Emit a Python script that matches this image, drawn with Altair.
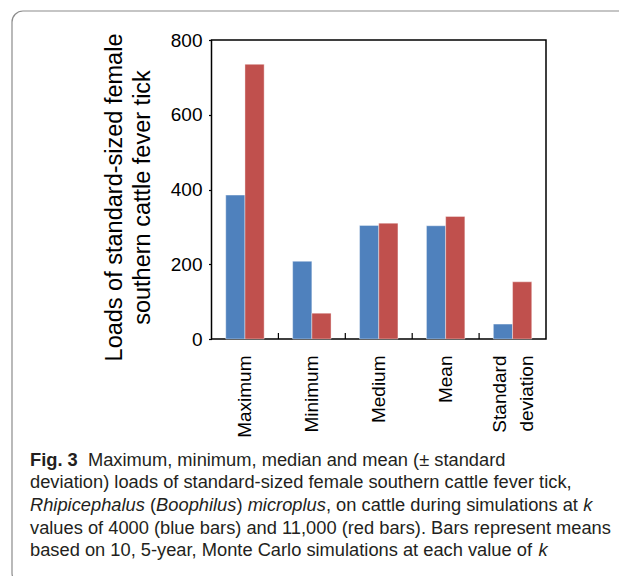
import altair as alt
import pandas as pd

categories = ["Maximum", "Minimum", "Medium", "Mean", "Standard deviation"]
k_values = ["4000", "11000"]
blue_4000 = [385, 208, 304, 303, 40]
red_11000 = [735, 69, 310, 328, 153]
y_ticks = [0, 200, 400, 600, 800]

rows = []
for c, b, r in zip(categories, blue_4000, red_11000):
    rows.append({"cat": c, "k": "4000", "load": b})
    rows.append({"cat": c, "k": "11000", "load": r})
df = pd.DataFrame(rows)

W, H = 334.5, 299
PL, PT = 203.5, 32  # plot origin in chart coords (page minus 8px margin)

xscale = alt.Scale(domain=categories, paddingInner=0, paddingOuter=0)

bars = alt.Chart(df).mark_bar(stroke="white", strokeWidth=0.4).encode(
    x=alt.X("cat:N", scale=xscale, sort=categories, title=None,
            axis=alt.Axis(labelAngle=-90, labelAlign="right", labelBaseline="middle",
                          labelPadding=16, ticks=False, tickSize=0, domain=False,
                          labelFont="Liberation Sans", labelFontSize=19, labelColor="black",
                          labelLineHeight=27,
                          labelOffset={"condition": {"test": "datum.value == 'Standard deviation'", "value": -13},
                                       "value": 0},
                          labelExpr="datum.value == 'Standard deviation' ? ['Standard', 'deviation'] : datum.label")),
    xOffset=alt.XOffset("k:N", scale=alt.Scale(domain=k_values, paddingOuter=0.742, paddingInner=0)),
    y=alt.Y("load:Q", scale=alt.Scale(domain=[0, 800], nice=False),
            axis=alt.Axis(values=y_ticks, tickSize=3, tickColor="black", tickWidth=1.2,
                          labelPadding=6.5, domain=False, grid=False,
                          labelFont="Liberation Sans", labelFontSize=19, labelColor="black",
                          title=["Loads of standard-sized female", "southern cattle fever tick"],
                          titleFont="Liberation Sans", titleFontSize=23.5, titleFontWeight="normal",
                          titleColor="black", titleLineHeight=28, titleAngle=-90,
                          titleBaseline="middle", titleAlign="center",
                          titleX=-97.5, titleY=157)),
    color=alt.Color("k:N", scale=alt.Scale(domain=k_values, range=["#4F81BD", "#C0504D"]), legend=None),
)

tick_df = pd.DataFrame({"cat": categories[1:]})
inner_ticks = alt.Chart(tick_df).mark_rule(color="black", strokeWidth=1.2).encode(
    x=alt.X("cat:N", scale=xscale, sort=categories, bandPosition=0, title=None),
    y=alt.value(H),
    y2=alt.value(H - 6),
)

frame_df = pd.DataFrame({"f": [1]})
frame = alt.Chart(frame_df).mark_rect(fillOpacity=0, stroke="#8c8c8c", strokeWidth=1.2,
                                      cornerRadius=11).encode(
    x=alt.value(12 - 8 - PL), y=alt.value(11 - 8 - PT),
    x2=alt.value(900), y2=alt.value(584 - 8 - PT),
)

# Arial / Liberation Sans advance widths (per 1000 em), used to chain styled runs
AW = {' ': 278, '(': 333, ')': 333, ',': 278, '-': 333, '.': 278, '\u00b1': 584,
      'A': 667, 'B': 667, 'C': 722, 'F': 611, 'M': 833, 'R': 722,
      'a': 556, 'b': 556, 'c': 500, 'd': 556, 'e': 556, 'f': 278, 'g': 556, 'h': 556,
      'i': 222, 'j': 222, 'k': 500, 'l': 222, 'm': 833, 'n': 556, 'o': 556, 'p': 556,
      'q': 556, 'r': 333, 's': 500, 't': 278, 'u': 556, 'v': 500, 'w': 722, 'x': 500,
      'y': 500, 'z': 500}
AWB = {'F': 611, 'i': 278, 'g': 611, '.': 278, ' ': 278, '3': 556}

CAP_FONT = "Liberation Sans"
CAP_SIZE = 18.3

def text_w(s, bold=False):
    tot = 0
    for ch in s:
        if bold:
            tot += AWB.get(ch, 600)
        elif ch.isdigit():
            tot += 556
        else:
            tot += AW.get(ch, 556)
    return tot / 1000 * CAP_SIZE

def line(runs, px, py):
    marks = []
    x = px
    for text, weight, style in runs:
        t = text.strip()
        lead = len(text) - len(text.lstrip())
        x += lead * 278 / 1000 * CAP_SIZE
        d = pd.DataFrame({"t": [t]})
        marks.append(alt.Chart(d).mark_text(align="left", baseline="alphabetic", font=CAP_FONT,
                                            fontSize=CAP_SIZE, fontWeight=weight, fontStyle=style,
                                            color="#231f20").encode(
            text="t:N", x=alt.value(x - 8 - PL), y=alt.value(py - 8 - PT)))
        x += text_w(t, bold=(weight == "bold"))
        trail = len(text) - len(text.rstrip())
        x += trail * 278 / 1000 * CAP_SIZE
    return marks

N, B, I = "normal", "bold", "italic"
b1, b2, b3, b4, b5 = 465.7, 488.3, 511.0, 533.6, 556.2
caption = []
caption += line([("Fig. 3", B, N), ("  Maximum, minimum, median and mean (\u00b1 standard", N, N)], 30, b1)
caption += line([("deviation) loads of standard-sized female southern cattle fever tick,", N, N)], 30, b2)
caption += line([("Rhipicephalus", N, I), (" (", N, N), ("Boophilus", N, I), (")", N, N),
                 (" microplus", N, I), (", on cattle during simulations at ", N, N), ("k", N, I)], 30, b3)
caption += line([("values of 4000 (blue bars) and 11,000 (red bars). Bars represent means", N, N)], 30, b4)
caption += line([("based on 10, 5-year, Monte Carlo simulations at each value of ", N, N), ("k", N, I)], 30, b5)

chart = alt.layer(frame, bars, inner_ticks, *caption).properties(
    width=W, height=H,
    autosize=alt.AutoSizeParams(type="none"),
    padding={"left": PL, "top": PT, "right": 611 - PL - W, "bottom": 568 - PT - H},
    background="white",
).configure_view(stroke="black", strokeWidth=1.5)

chart.save("out.html", embed_options={"renderer": "svg", "actions": False})
